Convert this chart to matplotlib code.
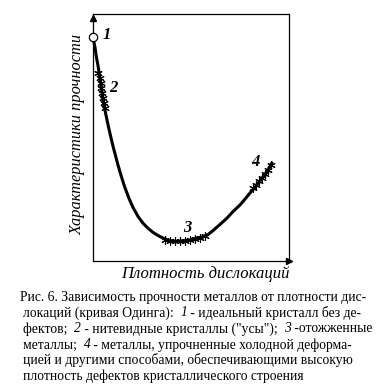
import matplotlib
matplotlib.use("Agg")
import matplotlib.pyplot as plt

# curve of strength vs dislocation density (arbitrary units 0..100)
curve_x = [0, 1.0, 1.7, 2.6, 3.4, 4.3, 5.1, 6.4, 7.7, 9.0, 10.2, 12.8, 14.5, 16.3,
           18.4, 20.4, 23.0, 25.5, 28.1, 30.6, 33.2, 35.7, 39.3, 42.3, 45.9, 49.5,
           53.1, 55.6, 58.7, 61.2, 64.8, 68.4, 71.4, 75.0, 77.6, 80.1, 83.7, 86.7,
           89.3, 91.3]
curve_y = [90.5, 86.6, 82.7, 78.9, 74.6, 70.0, 65.2, 59.9, 55.0, 50.5, 46.5, 38.7,
           34.1, 29.7, 25.3, 21.7, 18.0, 15.3, 13.2, 11.6, 10.3, 9.3, 8.1, 7.9, 8.1,
           8.5, 9.3, 9.7, 10.7, 12.3, 14.8, 17.4, 20.0, 22.7, 25.1, 27.5, 30.8,
           34.0, 36.8, 39.7]

# scattered experimental regions
zone2_x = [2.8, 3.5, 3.9, 4.3, 4.7, 5.0, 5.4, 5.9]
zone2_y = [76.1, 74.1, 72.1, 70.0, 68.0, 66.0, 64.0, 61.9]
zone3_x = [36.7, 39.3, 41.8, 44.4, 47.0, 49.5, 52.0, 54.6, 57.1]
zone3_y = [8.7, 8.1, 7.9, 7.9, 8.1, 8.5, 9.0, 9.5, 10.3]
zone4_x = [81.6, 83.2, 84.7, 86.2, 87.8, 89.3, 90.8]
zone4_y = [29.6, 30.8, 32.4, 33.6, 35.2, 36.8, 38.9]

point_labels = ["1", "2", "3", "4"]
label_x = [7.0, 10.2, 48.0, 83.0]
label_y = [91.5, 70.0, 13.5, 40.0]

caption = [
    [("Рис. 6. Зависимость прочности металлов от плотности дис-", False)],
    [("локаций (кривая Одинга):  ", False), ("1", True),
     (" - идеальный кристалл без де-", False)],
    [("фектов;  ", False), ("2", True), (" - нитевидные кристаллы (\"усы\");  ", False),
     ("3", True), (" -отожженные", False)],
    [("металлы;  ", False), ("4", True),
     (" - металлы, упрочненные холодной деформа-", False)],
    [("цией и другими способами, обеспечивающими высокую", False)],
    [("плотность дефектов кристаллического строения", False)],
]

plt.rcParams["font.family"] = ["Liberation Serif", "DejaVu Serif"]

W, H = 386, 389
fig = plt.figure(figsize=(W / 100, H / 100), dpi=100)
ax = fig.add_axes([93 / W, 1 - 261 / H, 196 / W, 247 / H])
ax.set_xlim(0, 100)
ax.set_ylim(0, 100)
ax.set_xticks([])
ax.set_yticks([])
for s in ax.spines.values():
    s.set_linewidth(0.9)
    s.set_color("black")

ax.plot(curve_x, curve_y, color="black", lw=2.2, solid_capstyle="round", clip_on=False)
for zx, zy in [(zone2_x, zone2_y), (zone3_x, zone3_y), (zone4_x, zone4_y)]:
    ax.plot(zx, zy, linestyle="none", marker=(6, 2, 0), ms=6, mew=0.8, color="black")
ax.plot(curve_x[0], curve_y[0], "o", ms=6, mfc="white", mec="black", mew=0.9,
        clip_on=False, zorder=5)

for t, lx, ly in zip(point_labels, label_x, label_y):
    ax.text(lx, ly, t, fontsize=12, style="italic", weight="bold", ha="center", va="center")

# axis arrows
ax.plot([0], [0.985], marker="^", ms=4, color="black", transform=ax.transAxes, clip_on=False)
ax.plot([0.998], [0.0], marker=">", ms=4, color="black", transform=ax.transAxes, clip_on=False)

fig.text(77.5 / W, 1 - 134 / H, "Характеристики прочности", rotation=90, style="italic",
         fontsize=11.8, ha="center", va="center")
fig.text(205 / W, 1 - 274 / H, "Плотность дислокаций", style="italic",
         fontsize=12, ha="center", va="center")

renderer = fig.canvas.get_renderer()
line_y = [297, 313, 329, 345, 360, 376]
line_x0 = [20, 23, 23, 23, 23, 23]
for segs, py, px in zip(caption, line_y, line_x0):
    x = px
    for txt, it in segs:
        t = fig.text(x / W, 1 - py / H, txt, fontsize=9.8,
                     style="italic" if it else "normal", ha="left", va="center")
        bb = t.get_window_extent(renderer)
        x += bb.width

fig.savefig("out.png", dpi=100)
